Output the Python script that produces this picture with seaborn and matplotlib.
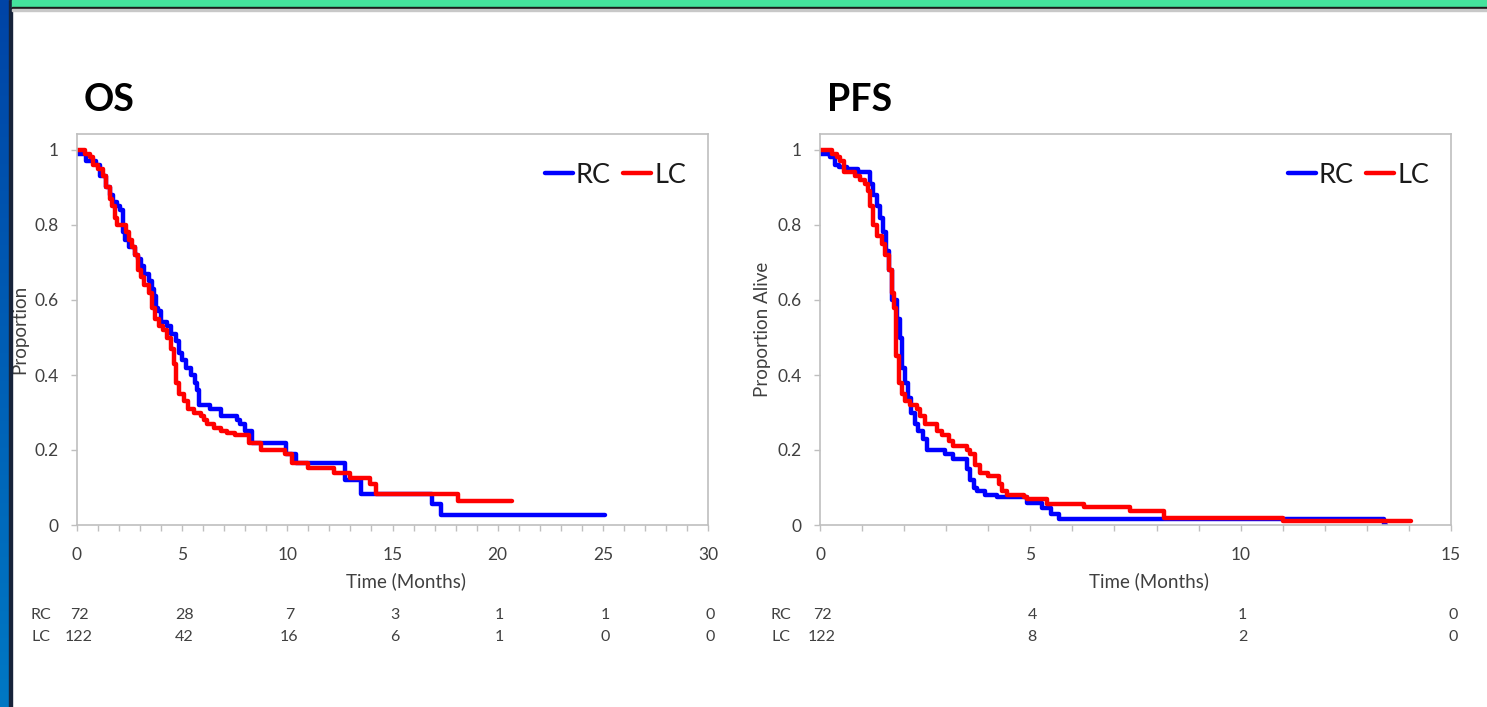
import numpy as np
import pandas as pd
import matplotlib
matplotlib.use("Agg")
import matplotlib.pyplot as plt
import seaborn as sns
from matplotlib.ticker import MultipleLocator, FixedLocator
from matplotlib.lines import Line2D
from matplotlib.patches import Rectangle
from matplotlib.colors import LinearSegmentedColormap
import matplotlib.transforms as mtransforms

# ---------------- data ----------------
os_rc_t = [0, 0.45, 0.9, 1.1, 1.4, 1.55, 1.7, 1.9, 2.05, 2.2, 2.3, 2.45, 2.75, 2.9, 3.05, 3.2,
           3.4, 3.55, 3.65, 3.75, 3.85, 4.0, 4.3, 4.45, 4.7, 4.85, 5.0, 5.2, 5.4, 5.6, 5.7,
           5.8, 6.3, 6.85, 7.6, 7.75, 8.0, 8.3, 9.95, 10.4, 12.75, 13.5, 16.9, 17.3, 25.1]
os_rc_s = [0.99, 0.97, 0.96, 0.93, 0.90, 0.88, 0.86, 0.85, 0.84, 0.78, 0.76, 0.74, 0.72, 0.71,
           0.69, 0.67, 0.65, 0.63, 0.61, 0.58, 0.57, 0.54, 0.53, 0.51, 0.49, 0.46, 0.44, 0.42,
           0.40, 0.38, 0.36, 0.32, 0.31, 0.29, 0.28, 0.27, 0.25, 0.22, 0.19, 0.165, 0.12,
           0.083, 0.055, 0.027, 0.027]

os_lc_t = [0, 0.37, 0.6, 0.77, 1.0, 1.25, 1.4, 1.55, 1.65, 1.8, 1.9, 2.35, 2.45, 2.6, 2.75,
           2.9, 3.05, 3.2, 3.4, 3.55, 3.7, 3.9, 4.1, 4.3, 4.45, 4.6, 4.7, 4.85, 5.1, 5.3,
           5.55, 5.9, 6.05, 6.2, 6.5, 6.85, 7.15, 7.5, 8.2, 8.75, 9.9, 10.2, 11.0, 12.2,
           13.0, 13.95, 14.2, 18.1, 20.7]
os_lc_s = [1.0, 0.99, 0.98, 0.96, 0.95, 0.93, 0.90, 0.87, 0.85, 0.82, 0.80, 0.78, 0.76, 0.74,
           0.72, 0.68, 0.66, 0.64, 0.62, 0.58, 0.55, 0.53, 0.52, 0.50, 0.47, 0.43, 0.38, 0.35,
           0.33, 0.31, 0.30, 0.29, 0.28, 0.27, 0.26, 0.25, 0.245, 0.24, 0.22, 0.20, 0.19,
           0.165, 0.152, 0.138, 0.125, 0.11, 0.083, 0.064, 0.064]

pfs_rc_t = [0, 0.24, 0.35, 0.44, 0.63, 0.9, 1.19, 1.27, 1.35, 1.43, 1.5, 1.56, 1.63, 1.7,
            1.83, 1.89, 1.94, 2.02, 2.1, 2.16, 2.26, 2.34, 2.44, 2.54, 2.98, 3.17, 3.49,
            3.57, 3.65, 3.73, 3.93, 4.2, 4.92, 5.28, 5.5, 5.67, 13.4, 13.45]
pfs_rc_s = [0.99, 0.98, 0.96, 0.955, 0.95, 0.94, 0.91, 0.88, 0.85, 0.82, 0.78, 0.73, 0.68,
            0.60, 0.55, 0.50, 0.42, 0.38, 0.34, 0.30, 0.27, 0.25, 0.23, 0.20, 0.19, 0.175,
            0.15, 0.12, 0.10, 0.09, 0.08, 0.075, 0.06, 0.045, 0.03, 0.016, 0.0, 0.0]

pfs_lc_t = [0, 0.28, 0.4, 0.48, 0.56, 0.83, 0.95, 1.07, 1.15, 1.2, 1.27, 1.35, 1.47, 1.55,
            1.63, 1.7, 1.76, 1.81, 1.87, 1.94, 2.02, 2.14, 2.3, 2.38, 2.5, 2.78, 2.9, 3.06,
            3.17, 3.49, 3.57, 3.69, 3.81, 4.0, 4.25, 4.33, 4.44, 4.84, 4.92, 5.4, 6.27,
            7.38, 8.17, 11.0, 14.05]
pfs_lc_s = [1.0, 0.99, 0.98, 0.97, 0.94, 0.93, 0.92, 0.91, 0.89, 0.85, 0.80, 0.77, 0.75,
            0.72, 0.68, 0.62, 0.58, 0.45, 0.38, 0.35, 0.33, 0.32, 0.31, 0.29, 0.27, 0.25,
            0.24, 0.225, 0.21, 0.20, 0.19, 0.16, 0.14, 0.13, 0.11, 0.09, 0.08, 0.075, 0.07,
            0.055, 0.048, 0.038, 0.018, 0.011, 0.011]

groups = ["RC", "LC"]
group_colors = ["#0000ff", "#ff0000"]

os_risk_times = [0, 5, 10, 15, 20, 25, 30]
os_risk_rc = [72, 28, 7, 3, 1, 1, 0]
os_risk_lc = [122, 42, 16, 6, 1, 0, 0]
pfs_risk_times = [0, 5, 10, 15]
pfs_risk_rc = [72, 4, 1, 0]
pfs_risk_lc = [122, 8, 2, 0]

y_ticks = [0, 0.2, 0.4, 0.6, 0.8, 1.0]
y_ticklabels = ["0", "0.2", "0.4", "0.6", "0.8", "1"]

# ---------------- style ----------------
sns.set_theme(style="white")
plt.rcParams["font.family"] = ["Lato", "DejaVu Sans"]

W, H = 1487, 707
fig = plt.figure(figsize=(W / 100, H / 100), dpi=100)
fig.patch.set_facecolor("white")


def rect(l, r, top, bottom):
    return [l / W, 1 - bottom / H, (r - l) / W, (bottom - top) / H]


# slide decorations: left blue gradient bar and top green banner
bar = fig.add_axes([0, 0, 9 / W, 1])
grad = np.linspace(0, 1, 256).reshape(-1, 1)
bar.imshow(grad, aspect="auto", cmap=LinearSegmentedColormap.from_list("b", ["#0044a6", "#0078c4"]))
bar.set_axis_off()
fig.patches.append(Rectangle((9 / W, 0), 2.5 / W, 1, transform=fig.transFigure,
                             color="#17233a", zorder=5))
fig.patches.append(Rectangle((11.5 / W, 1 - 7 / H), 1, 7 / H, transform=fig.transFigure,
                             color="#44e39c", zorder=5))
fig.patches.append(Rectangle((11.5 / W, 1 - 9 / H), 1, 2 / H, transform=fig.transFigure,
                             color="#1c1c1c", zorder=5))
fig.patches.append(Rectangle((11.5 / W, 1 - 11 / H), 1, 2 / H, transform=fig.transFigure,
                             color="#c8c8c8", zorder=5))

ax_os = fig.add_axes(rect(77, 708, 134, 525))
ax_pfs = fig.add_axes(rect(820, 1451, 134, 525))

ytop = (525 - 134) / 375.0

panels = [
    (ax_os, "OS", "Proportion", 30, (os_rc_t, os_rc_s), (os_lc_t, os_lc_s),
     os_risk_times, os_risk_rc, os_risk_lc, 84, 41),
    (ax_pfs, "PFS", "Proportion Alive", 15, (pfs_rc_t, pfs_rc_s), (pfs_lc_t, pfs_lc_s),
     pfs_risk_times, pfs_risk_rc, pfs_risk_lc, 827, 781),
]

gray = "#bfbfbf"
txt = "#404040"

for (ax, title, ylab, xmax, rc, lc, rt, rrc, rlc, title_x, lab_x) in panels:
    df = pd.concat([
        pd.DataFrame({"t": rc[0], "s": rc[1], "arm": "RC"}),
        pd.DataFrame({"t": lc[0], "s": lc[1], "arm": "LC"}),
    ], ignore_index=True)
    sns.lineplot(data=df, x="t", y="s", hue="arm", hue_order=groups,
                 palette=dict(zip(groups, group_colors)), estimator=None, sort=False,
                 drawstyle="steps-post", lw=3.2, ax=ax, legend=False)

    ax.set_xlim(0, xmax)
    ax.set_ylim(0, ytop)
    ax.xaxis.set_major_locator(MultipleLocator(5))
    ax.xaxis.set_minor_locator(MultipleLocator(1))
    ax.yaxis.set_major_locator(FixedLocator(y_ticks))
    ax.set_yticklabels(y_ticklabels)
    for sp in ax.spines.values():
        sp.set_visible(True)
        sp.set_color(gray)
        sp.set_linewidth(1.2)
    ax.tick_params(axis="both", which="both", direction="out", length=4, width=1,
                   color=gray, labelcolor=txt, labelsize=12.5)
    ax.tick_params(axis="x", which="both", pad=12, bottom=True)
    ax.tick_params(axis="y", which="both", pad=9, left=True)
    ax.set_xlabel("Time (Months)", fontsize=13.5, color=txt)
    ax.set_ylabel(ylab, fontsize=13.5, color=txt)
    ax.xaxis.set_label_coords(0.521, -0.122)
    ax.yaxis.set_label_coords(-0.077, 0.5)

    handles = [Line2D([], [], color=c, lw=3.2) for c in group_colors]
    ax.legend(handles, groups, ncol=2, loc="center right", bbox_to_anchor=(0.965, 0.895),
              frameon=False, fontsize=19.5, handlelength=1.05, handletextpad=0.1,
              columnspacing=0.45, borderpad=0, borderaxespad=0, labelcolor="#1a1a1a")

    fig.text(title_x / W, 1 - 100 / H, title, fontsize=27, fontweight="bold",
             ha="left", va="center", color="black")

    # numbers at risk
    tr = mtransforms.blended_transform_factory(ax.transData, fig.transFigure)
    tr = tr + mtransforms.ScaledTranslation(2 / 100, 0, fig.dpi_scale_trans)
    for row_y, name, vals in [(615, "RC", rrc), (637, "LC", rlc)]:
        fig.text(lab_x / W, 1 - row_y / H, name, fontsize=11.5, color=txt,
                 ha="center", va="center")
        for t, v in zip(rt, vals):
            ax.text(t, 1 - row_y / H, str(v), transform=tr, fontsize=11.5, color=txt,
                    ha="center", va="center", clip_on=False)

fig.savefig("out.png", dpi=100)
